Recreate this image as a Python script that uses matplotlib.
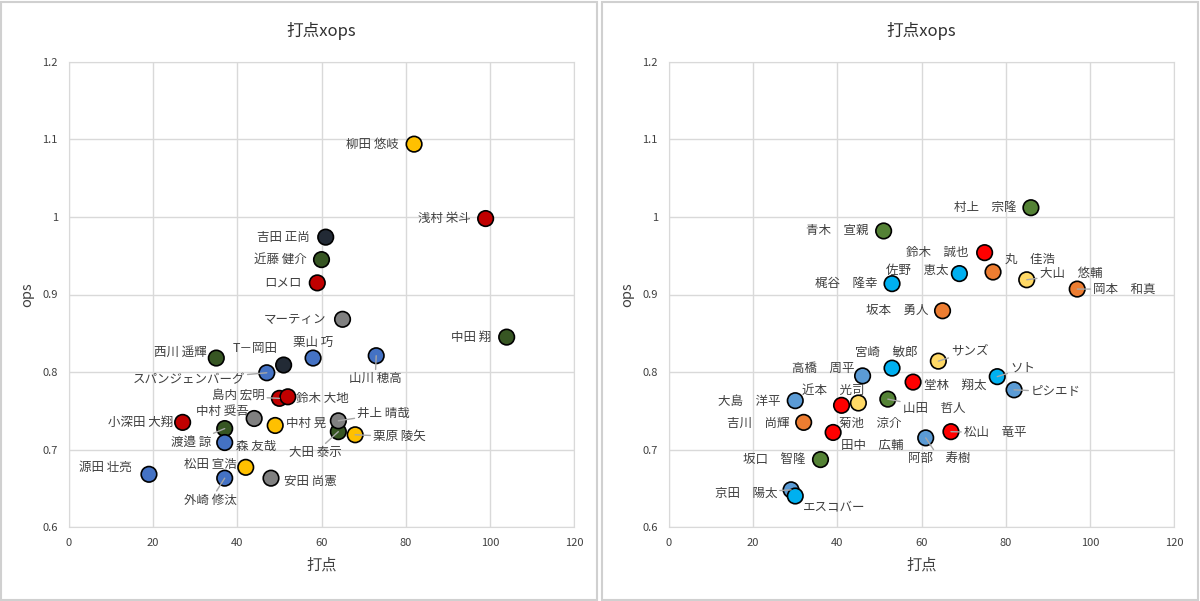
import matplotlib
matplotlib.use("Agg")
import matplotlib.pyplot as plt
from matplotlib.patches import Rectangle

plt.rcParams['font.family'] = ['Noto Sans CJK JP', 'DejaVu Sans']

# ---- left chart (パ・リーグ) ----
left_names = ["柳田 悠岐", "浅村 栄斗", "吉田 正尚", "近藤 健介", "ロメロ", "マーティン", "中田 翔",
              "西川 遥輝", "T－岡田", "栗山 巧", "山川 穂高", "スパンジェンバーグ", "島内 宏明", "鈴木 大地",
              "中村 奨吾", "小深田 大翔", "中村 晃", "渡邉 諒", "森 友哉", "大田 泰示", "井上 晴哉",
              "栗原 陵矢", "源田 壮亮", "松田 宣浩", "外崎 修汰", "安田 尚憲"]
left_rbi = [82, 99, 61, 60, 59, 65, 104, 35, 51, 58, 73, 47, 50, 52, 44, 27, 49, 37, 37, 64, 64,
            68, 19, 42, 37, 48]
left_ops = [1.094, 0.998, 0.974, 0.945, 0.915, 0.868, 0.845, 0.818, 0.809, 0.818, 0.821, 0.799,
            0.766, 0.768, 0.740, 0.735, 0.731, 0.727, 0.709, 0.723, 0.737, 0.719, 0.668, 0.677,
            0.663, 0.663]
left_colors = ["#FFC000", "#C00000", "#222A35", "#375623", "#C00000", "#808080", "#375623",
               "#375623", "#222A35", "#4472C4", "#4472C4", "#4472C4", "#C00000", "#C00000",
               "#808080", "#C00000", "#FFC000", "#375623", "#4472C4", "#375623", "#808080",
               "#FFC000", "#4472C4", "#FFC000", "#4472C4", "#808080"]
# label offsets in image pixels (dx, dy downwards), alignment, leader line
left_offsets = [(-15, 0, "right", False), (-15, 0, "right", False), (-16, 0, "right", False),
                (-15, 0, "right", False), (-16, 0, "right", False), (-16, 0, "right", False),
                (-15, 0, "right", False), (-10, -6, "right", False), (-28, -17, "center", False),
                (0, -16, "center", False), (-1, 23, "center", True), (-22, 7, "right", True),
                (-15, -2, "right", True), (8, 2, "left", False), (-32, -7, "center", False),
                (-9, 0, "right", False), (11, -2, "left", False), (-13, 14, "right", True),
                (11, 4, "left", False), (-23, 21, "center", True), (19, -7, "left", True),
                (18, 2, "left", True), (-17, -7, "right", False), (-9, -3, "right", False),
                (-14, 22, "center", True), (13, 3, "left", False)]

# ---- right chart (セ・リーグ) ----
right_names = ["村上　宗隆", "青木　宣親", "鈴木　誠也", "丸　佳浩", "佐野　恵太", "梶谷　隆幸",
               "大山　悠輔", "岡本　和真", "坂本　勇人", "サンズ", "宮崎　敏郎", "高橋　周平", "ソト",
               "堂林　翔太", "ピシエド", "大島　洋平", "近本　光司", "山田　哲人", "吉川　尚輝",
               "菊池　涼介", "松山　竜平", "田中　広輔", "阿部　寿樹", "坂口　智隆", "京田　陽太",
               "エスコバー"]
right_rbi = [86, 51, 75, 77, 69, 53, 85, 97, 65, 64, 53, 46, 78, 58, 82, 30, 45, 52, 32, 41,
             67, 39, 61, 36, 29, 30]
right_ops = [1.012, 0.982, 0.954, 0.929, 0.927, 0.914, 0.919, 0.907, 0.879, 0.814, 0.805, 0.795,
             0.794, 0.787, 0.777, 0.763, 0.760, 0.765, 0.735, 0.757, 0.723, 0.722, 0.715, 0.687,
             0.648, 0.640]
right_colors = ["#548235", "#548235", "#FF0000", "#ED7D31", "#00B0F0", "#00B0F0", "#FFD966",
                "#ED7D31", "#ED7D31", "#FFD966", "#00B0F0", "#5B9BD5", "#00B0F0", "#FF0000",
                "#5B9BD5", "#5B9BD5", "#FFD966", "#548235", "#ED7D31", "#FF0000", "#FF0000",
                "#FF0000", "#5B9BD5", "#548235", "#5B9BD5", "#00B0F0"]
right_offsets = [(-14, 0, "right", False), (-15, 0, "right", False), (-16, 0, "right", False),
                 (37, -13, "center", False), (-11, -3, "right", False), (-15, 0, "right", False),
                 (13, -6, "left", True), (16, 0, "left", True), (-14, 0, "right", False),
                 (13, -10, "left", True), (-6, -16, "center", False), (-8, -7, "right", False),
                 (13, -8, "left", True), (11, 3, "left", False), (17, 2, "left", True),
                 (-15, 1, "right", False), (-25, -13, "center", False), (15, 9, "left", True),
                 (-14, 1, "right", False), (29, 18, "center", False), (13, 1, "left", True),
                 (39, 13, "center", False), (14, 21, "center", True), (-15, 0, "right", False),
                 (-14, 3, "right", True), (39, 11, "center", False)]

x_ticks = [0, 20, 40, 60, 80, 100, 120]
y_ticks = [0.6, 0.7, 0.8, 0.9, 1.0, 1.1, 1.2]
y_tick_labels = ["0.6", "0.7", "0.8", "0.9", "1", "1.1", "1.2"]

fig = plt.figure(figsize=(12, 6.01), dpi=100)
W, H = 1200, 601

# panel borders
fig.patches.append(Rectangle((1 / W, 1 / H), 596 / W, 598 / H, transform=fig.transFigure,
                             fill=False, edgecolor="#d0d0d0", linewidth=1.5))
fig.patches.append(Rectangle((602 / W, 1 / H), 596 / W, 598 / H, transform=fig.transFigure,
                             fill=False, edgecolor="#d0d0d0", linewidth=1.5))


def draw_panel(left_px, names, xs, ys, colors, offsets):
    ax = fig.add_axes([left_px / W, 1 - 527 / H, 505 / W, 465 / H])
    ax.scatter(xs, ys, s=125, c=colors, edgecolors="black", linewidths=1.2, zorder=3)
    for n, x, y, (dx, dy, ha, lead) in zip(names, xs, ys, offsets):
        kw = {}
        if lead:
            kw["arrowprops"] = dict(arrowstyle="-", color="#a6a6a6", lw=1, shrinkA=0, shrinkB=0)
        ax.annotate(n, (x, y), xytext=(dx, -dy), textcoords="offset pixels", ha=ha, va="center",
                    fontsize=9, color="#404040", zorder=4, **kw)
    ax.set_xlim(0, 120)
    ax.set_ylim(0.6, 1.2)
    ax.set_xticks(x_ticks)
    ax.set_yticks(y_ticks)
    ax.set_yticklabels(y_tick_labels)
    ax.tick_params(length=0, labelsize=8, labelcolor="#404040", pad=8)
    ax.grid(True, color="#d9d9d9", linewidth=1)
    ax.set_axisbelow(True)
    for sp in ax.spines.values():
        sp.set_color("#d9d9d9")
    ax.set_xlabel("打点", fontsize=11, color="#404040", labelpad=6)
    ax.set_ylabel("ops", fontsize=10.5, color="#404040", labelpad=6)
    ax.set_title("打点xops", fontsize=12, color="#303030", pad=19)
    return ax


draw_panel(69, left_names, left_rbi, left_ops, left_colors, left_offsets)
draw_panel(669, right_names, right_rbi, right_ops, right_colors, right_offsets)

fig.savefig("out.png", dpi=100)
